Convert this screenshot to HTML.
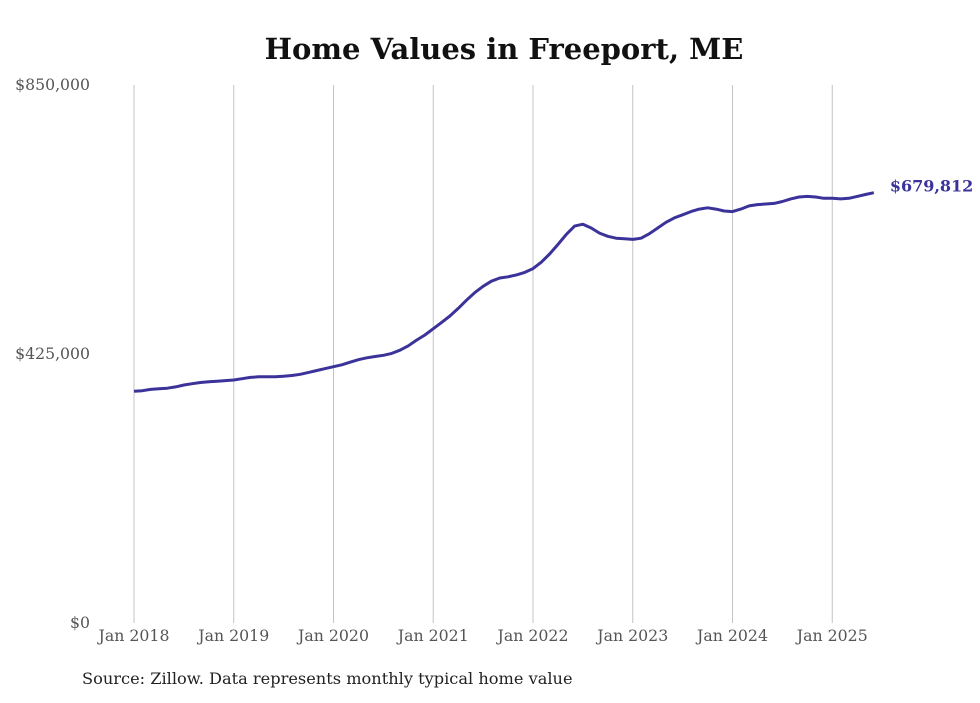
<!DOCTYPE html>
<html><head><meta charset="utf-8">
<style>
body{margin:0;background:#fff;width:980px;height:699px;overflow:hidden;font-family:"DejaVu Serif","Liberation Serif",serif;}
</style></head>
<body>
<svg id="chart" width="980" height="699" xmlns="http://www.w3.org/2000/svg">
<text x="504" y="59" text-anchor="middle" font-size="29" font-weight="bold" fill="#111" font-family="DejaVu Serif, Liberation Serif, serif">Home Values in Freeport, ME</text>
<g id="grid"></g>
<g id="yticks"></g>
<g id="xticks"></g>
<path id="line" fill="none" stroke="#3b3399" stroke-width="3" stroke-linejoin="round"/>
<text id="endlabel" font-size="16" font-weight="bold" fill="#3b3399" font-family="DejaVu Serif, Liberation Serif, serif"></text>
<text x="82" y="684" font-size="16.2" fill="#222" font-family="DejaVu Serif, Liberation Serif, serif">Source: Zillow. Data represents monthly typical home value</text>
</svg>
<script>
const xTickLabels=["Jan 2018","Jan 2019","Jan 2020","Jan 2021","Jan 2022","Jan 2023","Jan 2024","Jan 2025"];
const yTickValues=[0,425000,850000];
const yTickLabels=["$0","$425,000","$850,000"];
const startYear=2018;
const values=[366,367,369,370,371,373,376,378,380,381,382,383,
384,386,388,389,389,389,390,391,393,396,399,402,
405,408,412,416,419,421,423,426,431,438,447,455,
465,475,485,497,510,522,532,540,545,547,550,554,
560,570,583,598,614,627,630,624,616,611,608,607,
606,608,615,624,633,640,645,650,654,656,654,651,
650,654,659,661,662,663,666,670,673,674,673,671,
671,670,671,674,677,679.812].map(v=>v*1000);
const endLabel="$679,812";

const NS="http://www.w3.org/2000/svg";
const x0=134,yearW=99.75,yTop=85,yBot=623,yMax=850000;
const xScale=m=>x0+m*yearW/12;
const yScale=v=>yBot-v/yMax*(yBot-yTop);
const grid=document.getElementById('grid'),xt=document.getElementById('xticks'),yt=document.getElementById('yticks');
xTickLabels.forEach((lab,i)=>{
  const x=xScale(i*12);
  const l=document.createElementNS(NS,'line');
  
  
  l.setAttribute('x1',x);l.setAttribute('x2',x);l.setAttribute('y1',yTop);l.setAttribute('y2',yBot);
  l.setAttribute('stroke','#c4c4c4');l.setAttribute('stroke-width','1');
  grid.appendChild(l);
  const t=document.createElementNS(NS,'text');
  
  
  t.setAttribute('x',x);t.setAttribute('y',641);t.setAttribute('text-anchor','middle');
  t.setAttribute('font-size','15.75');t.setAttribute('fill','#555');
  t.textContent=lab;xt.appendChild(t);
});
yTickValues.forEach((v,i)=>{
  const t=document.createElementNS(NS,'text');
  
  
  t.setAttribute('x',90);t.setAttribute('y',yScale(v)+5);t.setAttribute('text-anchor','end');
  t.setAttribute('font-size','15.7');t.setAttribute('fill','#555');
  t.textContent=yTickLabels[i];yt.appendChild(t);
});
let d='';
values.forEach((v,i)=>{d+=(i?'L':'M')+xScale(i).toFixed(1)+','+yScale(v).toFixed(1);});
document.getElementById('line').setAttribute('d',d);
const last=values.length-1,el=document.getElementById('endlabel');
el.setAttribute('x',xScale(last)+16);el.setAttribute('y',yScale(values[last])-1);
el.textContent=endLabel;
</script>
</body></html>
